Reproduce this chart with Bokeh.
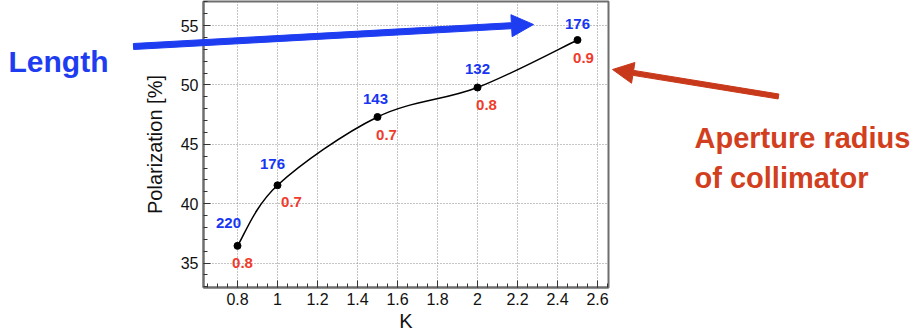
from bokeh.plotting import figure
from bokeh.models import ColumnDataSource, FixedTicker, Range1d
from bokeh.core.properties import value
from bokeh.embed import file_html
from bokeh.resources import INLINE
import numpy as np

# ---- data ----
k_values = [0.8, 1.0, 1.5, 2.0, 2.5]
polarization = [36.45, 41.55, 47.3, 49.78, 53.78]
length_labels = ["220", "176", "143", "132", "176"]
aperture_labels = ["0.8", "0.7", "0.7", "0.8", "0.9"]
x_ticks = [0.8, 1.0, 1.2, 1.4, 1.6, 1.8, 2.0, 2.2, 2.4, 2.6]
x_tick_labels = ["0.8", "1", "1.2", "1.4", "1.6", "1.8", "2", "2.2", "2.4", "2.6"]
y_ticks = [35, 40, 45, 50, 55]
y_tick_labels = ["35", "40", "45", "50", "55"]
callout_texts = ["Length", "Aperture radius", "of collimator"]

# ---- layout / style (pixel offsets of the value labels, screen-down positive) ----
blue_dx = [-9, -5, -2, 0, 0]
blue_dy = [-23, -21, -18, -19, -16]
red_dx = [5, 14, 9, 9, 6]
red_dy = [17, 17, 18, 17, 18]

FONT = "Liberation Sans"
BLUE = "#1736f2"
RED = "#f03b2c"
ARROW_BLUE = "#1e3cf0"
ARROW_RED = "#c8391b"
TEXT_RED = "#d23f1e"

W, H = 914, 335
PX_PER_X = 200.0    # screen pixels per unit of K
PX_PER_Y = 11.88    # screen pixels per % polarization
X_REF_PX, Y_REF_PX = 237.0, 25.0   # canvas position of (0.8, 55)


def to_data(px, py):
    return 0.8 + (px - X_REF_PX) / PX_PER_X, 55.0 - (py - Y_REF_PX) / PX_PER_Y


FL, FT, FR, FB = 203, 1, 608, 287   # plot frame in canvas pixels
x0, y1 = to_data(FL, FT)
x1, y0 = to_data(FR, FB)

p = figure(width=W, height=H, output_backend="svg", toolbar_location=None,
           x_range=Range1d(x0, x1), y_range=Range1d(y0, y1),
           min_border_left=FL, min_border_right=W - FR, min_border_top=FT,
           min_border_bottom=H - FB)
p.background_fill_color = "white"
p.border_fill_color = "white"
p.outline_line_color = "#6e6e6e"
p.outline_line_width = 2

minor_x = [round(0.65 + 0.05 * i, 2) for i in range(41) if 0.65 + 0.05 * i <= 2.65]
minor_y = list(range(33, 58))
p.xaxis.ticker = FixedTicker(ticks=x_ticks, minor_ticks=minor_x)
p.yaxis.ticker = FixedTicker(ticks=y_ticks, minor_ticks=minor_y)
p.xaxis.major_label_overrides = {t: l for t, l in zip(x_ticks, x_tick_labels)}
p.yaxis.major_label_overrides = {t: l for t, l in zip(y_ticks, y_tick_labels)}

for ax in (p.xaxis, p.yaxis):
    ax.major_tick_in = 7
    ax.major_tick_out = 0
    ax.minor_tick_in = 4
    ax.minor_tick_out = 0
    ax.major_tick_line_color = "#333333"
    ax.minor_tick_line_color = "#333333"
    ax.axis_line_color = "#6e6e6e"
    ax.axis_line_width = 2
    ax.major_label_text_font = FONT
    ax.major_label_text_font_size = "16px"
    ax.major_label_text_color = "#111111"
    ax.axis_label_text_font = FONT
    ax.axis_label_text_font_size = "20px"
    ax.axis_label_text_font_style = "normal"
    ax.axis_label_text_color = "#111111"
    ax.major_label_standoff = 5

p.xaxis.axis_label = "K"
p.yaxis.axis_label = "Polarization [%]"
p.xaxis.axis_label_standoff = 2
p.yaxis.axis_label_standoff = 12

p.grid.grid_line_color = "#8a8a8a"
p.grid.grid_line_dash = "1 2"
p.grid.grid_line_width = 1

# smooth curve through the points (Catmull-Rom -> cubic Bezier)
xs = np.array(k_values)
ys = np.array(polarization)
xp = np.concatenate([[xs[0]], xs, [xs[-1]]])
yp = np.concatenate([[ys[0]], ys, [ys[-1]]])
n = len(xs)
bez = dict(x0=xs[:-1], y0=ys[:-1], x1=xs[1:], y1=ys[1:],
           cx0=xs[:-1] + (xp[2:n + 1] - xp[0:n - 1]) / 6.0,
           cy0=ys[:-1] + (yp[2:n + 1] - yp[0:n - 1]) / 6.0,
           cx1=xs[1:] - (xp[3:n + 2] - xp[1:n]) / 6.0,
           cy1=ys[1:] - (yp[3:n + 2] - yp[1:n]) / 6.0)
p.bezier(x0="x0", y0="y0", x1="x1", y1="y1", cx0="cx0", cy0="cy0", cx1="cx1", cy1="cy1",
         source=ColumnDataSource(bez), line_color="black", line_width=1.5)

src = ColumnDataSource(dict(k=k_values, pol=polarization, lab_l=length_labels,
                            lab_a=aperture_labels, bdx=blue_dx, bdy=blue_dy,
                            rdx=red_dx, rdy=red_dy))
p.scatter("k", "pol", source=src, size=7, color="black")
p.text("k", "pol", text="lab_l", source=src, x_offset="bdx", y_offset="bdy",
       text_align="center", text_baseline="middle", text_color=BLUE,
       text_font=value(FONT), text_font_style="bold", text_font_size="15px")
p.text("k", "pol", text="lab_a", source=src, x_offset="rdx", y_offset="rdy",
       text_align="center", text_baseline="middle", text_color=RED,
       text_font=value(FONT), text_font_style="bold", text_font_size="15px")

# ---- transparent overlay (separate root) with the call-out arrows and texts ----
qx0, qy1 = to_data(0, 0)
qx1, qy0 = to_data(W, H)
q = figure(width=W, height=H, output_backend="svg", toolbar_location=None,
           x_range=Range1d(qx0, qx1), y_range=Range1d(qy0, qy1),
           x_axis_type=None, y_axis_type=None, min_border=0,
           margin=(-H, 0, 0, 0))
q.grid.visible = False
q.outline_line_color = None
q.background_fill_alpha = 0
q.border_fill_alpha = 0


def arrow_poly(tail, tip, shaft_w, head_len, head_half):
    t = np.array(tail, float)
    h = np.array(tip, float)
    d = h - t
    d /= np.hypot(*d)
    nrm = np.array([-d[1], d[0]])
    base = h - d * head_len
    pts = [t + nrm * shaft_w / 2, base + nrm * shaft_w / 2, base + nrm * head_half, h,
           base - nrm * head_half, base - nrm * shaft_w / 2, t - nrm * shaft_w / 2]
    dx, dy = zip(*[to_data(*pt) for pt in pts])
    return list(dx), list(dy)


bx, by = arrow_poly((133, 46), (533, 24), 6, 22, 11)
rx, ry = arrow_poly((778, 96), (612, 69), 5, 21, 10.5)
q.patch(bx, by, fill_color=ARROW_BLUE, line_color=ARROW_BLUE, line_width=1)
q.patch(rx, ry, fill_color=ARROW_RED, line_color=ARROW_RED, line_width=1)

tpos = [to_data(8, 61), to_data(694, 137), to_data(694, 177)]
tsrc = ColumnDataSource(dict(x=[t[0] for t in tpos], y=[t[1] for t in tpos],
                             text=callout_texts,
                             color=[ARROW_BLUE, TEXT_RED, TEXT_RED],
                             size=["30px", "29px", "29px"]))
q.text(x="x", y="y", text="text", source=tsrc, text_color="color",
       text_font=value(FONT), text_font_style="bold", text_font_size="size",
       text_baseline="alphabetic", text_align="left")

open("out.html", "w").write(file_html([p, q], INLINE))
